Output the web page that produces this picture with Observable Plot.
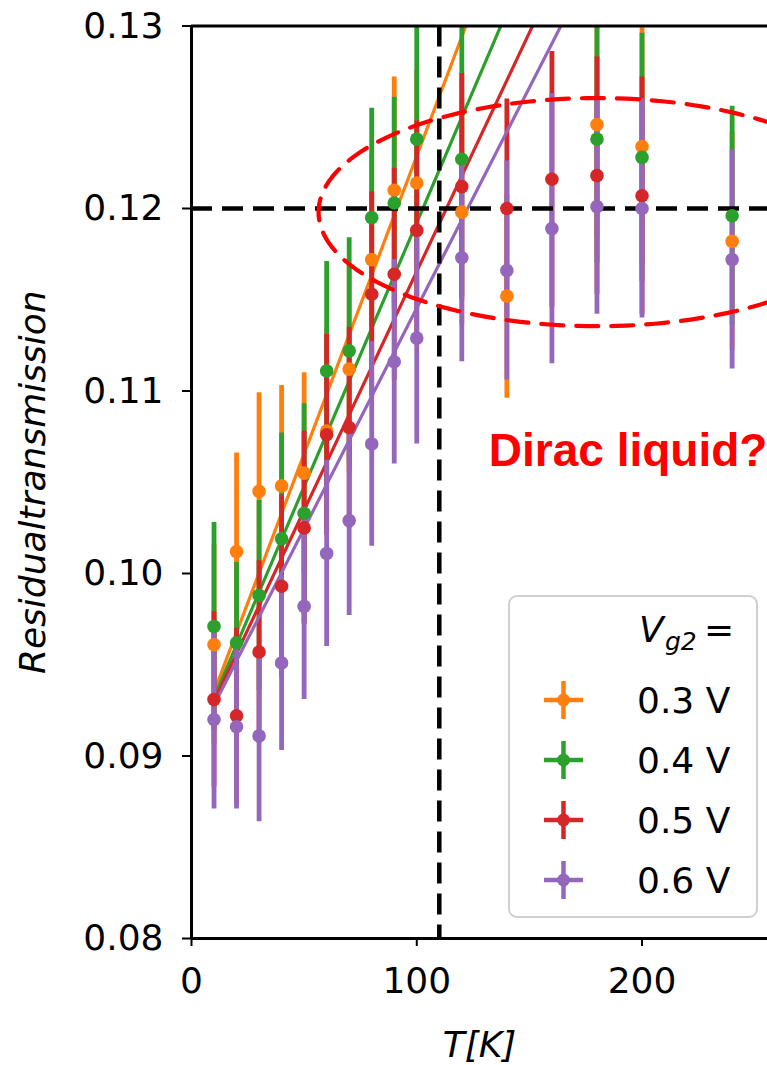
<!DOCTYPE html>
<html>
<head>
<meta charset="utf-8">
<script src="https://cdn.jsdelivr.net/npm/d3@7"></script>
<script src="https://cdn.jsdelivr.net/npm/@observablehq/plot@0.6"></script>
<style>
  html, body { margin: 0; padding: 0; background: #fff; }
  #wrap { position: relative; width: 767px; height: 1065px; overflow: hidden; background: #fff; }
  #legend { position: absolute; left: 508px; top: 595px; }
</style>
</head>
<body>
<div id="wrap"></div>
<script>
// ---------- data ----------
const temps = [10, 20, 30, 40, 50, 60, 70, 80, 90, 100, 120, 140, 160, 180, 200, 240];
const seriesNames = ["0.3 V", "0.4 V", "0.5 V", "0.6 V"];
const seriesColors = ["#ff7f0e", "#2ca02c", "#d62728", "#9467bd"];

// residual transmission per gate voltage (null = not shown)
const trans03 = [0.0961, 0.1012, 0.1045, 0.1048, 0.1055, 0.1078, 0.1112, 0.1172, 0.1210, 0.1214, 0.1198, 0.1152, null, 0.1246, 0.1234, 0.1182];
const trans04 = [0.0971, 0.0962, 0.0988, 0.1019, 0.1033, 0.1111, 0.1122, 0.1195, 0.1203, 0.1238, 0.1227, null, null, 0.1238, 0.1228, 0.1196];
const trans05 = [0.0931, 0.0922, 0.0957, 0.0993, 0.1025, 0.1076, 0.1080, 0.1153, 0.1164, 0.1188, 0.1212, 0.1200, 0.1216, 0.1218, 0.1207, null];
const trans06 = [0.0920, 0.0916, 0.0911, 0.0951, 0.0982, 0.1011, 0.1029, 0.1071, 0.1116, 0.1129, 0.1173, 0.1166, 0.1189, 0.1201, 0.1200, 0.1172];

// error bar half-lengths
const err03 = [0.0055, 0.0054, 0.0054, 0.0055, 0.0055, 0.0056, 0.0057, 0.0058, 0.0062, 0.0062, 0.0062, 0.0056, null, 0.0062, 0.0065, 0.0060];
const err04 = [0.0057, 0.0044, 0.0052, 0.0058, 0.0060, 0.0060, 0.0062, 0.0060, 0.0058, 0.0068, 0.0075, null, null, 0.0068, 0.0068, 0.0060];
const err05 = [0.0048, 0.0048, 0.0050, 0.0050, 0.0053, 0.0055, 0.0055, 0.0056, 0.0058, 0.0060, 0.0062, 0.0060, 0.0070, 0.0065, 0.0065, null];
const err06 = [0.0049, 0.0045, 0.0047, 0.0048, 0.0051, 0.0051, 0.0052, 0.0056, 0.0056, 0.0058, 0.0057, 0.0060, 0.0074, 0.0059, 0.0060, 0.0060];

// linear fits (start temperature, value at start, slope per K)
const fitStartT = 10;
const fitEndT = 200;
const fitStartV = [0.0935, 0.0932, 0.0930, 0.0928];
const fitSlope = [3.265e-4, 2.891e-4, 2.617e-4, 2.416e-4];

// axes
const xTicks = [0, 100, 200];
const yTicks = [0.08, 0.09, 0.10, 0.11, 0.12, 0.13];
const xDomain = [0, 255.7];
const yDomain = [0.08, 0.13];

// annotations
const refLevel = 0.12;     // horizontal dashed line
const refTemp = 110;       // vertical dashed line
const ellipseCenterT = 180, ellipseCenterV = 0.1198;
const ellipseRadiusT = 123.6, ellipseRadiusV = 0.00625;
const noteText = "Dirac liquid?";
const noteT = 132, noteV = 0.1067;
const xLabel = "T[K]";
const yLabel = "Residualtransmission";

// ---------- build tables ----------
const values = [trans03, trans04, trans05, trans06];
const errors = [err03, err04, err05, err06];
const rows = [];
seriesNames.forEach((s, i) => {
  temps.forEach((t, j) => {
    const v = values[i][j];
    if (v == null) return;
    const e = errors[i][j];
    rows.push({series: s, T: t, v, lo: v - e, hi: v + e});
  });
});
const fitRows = i => [fitStartT, fitEndT].map(t => ({T: t, v: fitStartV[i] + fitSlope[i] * (t - fitStartT)}));
const ellipsePts = d3.range(0, 361, 2).map(a => {
  const r = a * Math.PI / 180;
  return {T: ellipseCenterT + ellipseRadiusT * Math.cos(r), v: ellipseCenterV + ellipseRadiusV * Math.sin(r)};
});

// ---------- marks ----------
const marks = [];
seriesNames.forEach((s, i) => {
  marks.push(Plot.ruleX(rows.filter(r => r.series === s), {x: "T", y1: "lo", y2: "hi", stroke: seriesColors[i], strokeWidth: 4.8, clip: true}));
  marks.push(Plot.line(fitRows(i), {x: "T", y: "v", stroke: seriesColors[i], strokeWidth: 3.2, clip: true}));
});
marks.push(Plot.ruleY([refLevel], {stroke: "black", strokeWidth: 4.5, strokeDasharray: "21,10"}));
marks.push(Plot.ruleX([refTemp], {stroke: "black", strokeWidth: 4.5, strokeDasharray: "21,10"}));
seriesNames.forEach((s, i) => {
  marks.push(Plot.dot(rows.filter(r => r.series === s), {x: "T", y: "v", r: 6.8, fill: seriesColors[i], stroke: "none", clip: true}));
});
marks.push(Plot.line(ellipsePts, {x: "T", y: "v", stroke: "#ff0000", strokeWidth: 4.2, strokeDasharray: "22,13", clip: true}));
marks.push(Plot.text([noteText], {x: () => noteT, y: () => noteV, text: d => d, fill: "#ff0000", fontWeight: "bold", fontSize: 46, textAnchor: "start", fontFamily: "Liberation Sans, Arial, sans-serif"}));
// spines
marks.push(Plot.ruleX([xDomain[0]], {stroke: "black", strokeWidth: 3}));
marks.push(Plot.ruleY([yDomain[0]], {stroke: "black", strokeWidth: 3}));
marks.push(Plot.ruleY([yDomain[1]], {stroke: "black", strokeWidth: 3}));
// axes
marks.push(Plot.axisX({ticks: xTicks, tickFormat: d => String(d), tickSize: 8, tickPadding: 21, fontSize: 36, strokeWidth: 2, label: null}));
marks.push(Plot.axisY({ticks: yTicks, tickFormat: d3.format(".2f"), tickSize: 9, tickPadding: 19, fontSize: 36, strokeWidth: 2, label: null}));
marks.push(Plot.text([xLabel], {frameAnchor: "bottom", dy: 107, lineAnchor: "middle", textAnchor: "middle", text: d => d, fontSize: 36, fontStyle: "italic"}));
marks.push(Plot.text([yLabel], {frameAnchor: "left", dx: -158, rotate: -90, textAnchor: "middle", lineAnchor: "middle", text: d => d, fontSize: 36, fontStyle: "italic"}));

const chart = Plot.plot({
  width: 767,
  height: 1065,
  marginLeft: 191,
  marginRight: 0,
  marginTop: 25.5,
  marginBottom: 127,
  x: {domain: xDomain},
  y: {domain: yDomain},
  style: {fontFamily: "'DejaVu Sans', sans-serif", background: "white", color: "black", overflow: "visible"},
  marks
});
const wrap = document.getElementById("wrap");
wrap.appendChild(chart);

// ---------- legend (inside the axes, lower right) ----------
const ns = "http://www.w3.org/2000/svg";
const leg = document.createElementNS(ns, "svg");
leg.setAttribute("id", "legend");
leg.setAttribute("width", 252);
leg.setAttribute("height", 325);
leg.style.fontFamily = "'DejaVu Sans', sans-serif";
let html = `<rect x="1" y="1" width="248" height="321" rx="8" ry="8" fill="white" fill-opacity="0.8" stroke="#d0d0d0" stroke-width="2"/>`;
html += `<text x="131" y="47" font-size="36" font-style="italic">V</text>`;
html += `<text x="157" y="55" font-size="25" font-style="italic">g2</text>`;
html += `<text x="196" y="47" font-size="36">=</text>`;
seriesNames.forEach((s, i) => {
  const cy = 105 + i * 60;
  const c = seriesColors[i];
  html += `<line x1="36" x2="75" y1="${cy}" y2="${cy}" stroke="${c}" stroke-width="4.5"/>`;
  html += `<line x1="55.5" x2="55.5" y1="${cy - 19}" y2="${cy + 19}" stroke="${c}" stroke-width="4.5"/>`;
  html += `<circle cx="55.5" cy="${cy}" r="6.5" fill="${c}"/>`;
  html += `<text x="129" y="${cy + 13}" font-size="36">${s}</text>`;
});
leg.innerHTML = html;
wrap.appendChild(leg);
</script>
</body>
</html>
